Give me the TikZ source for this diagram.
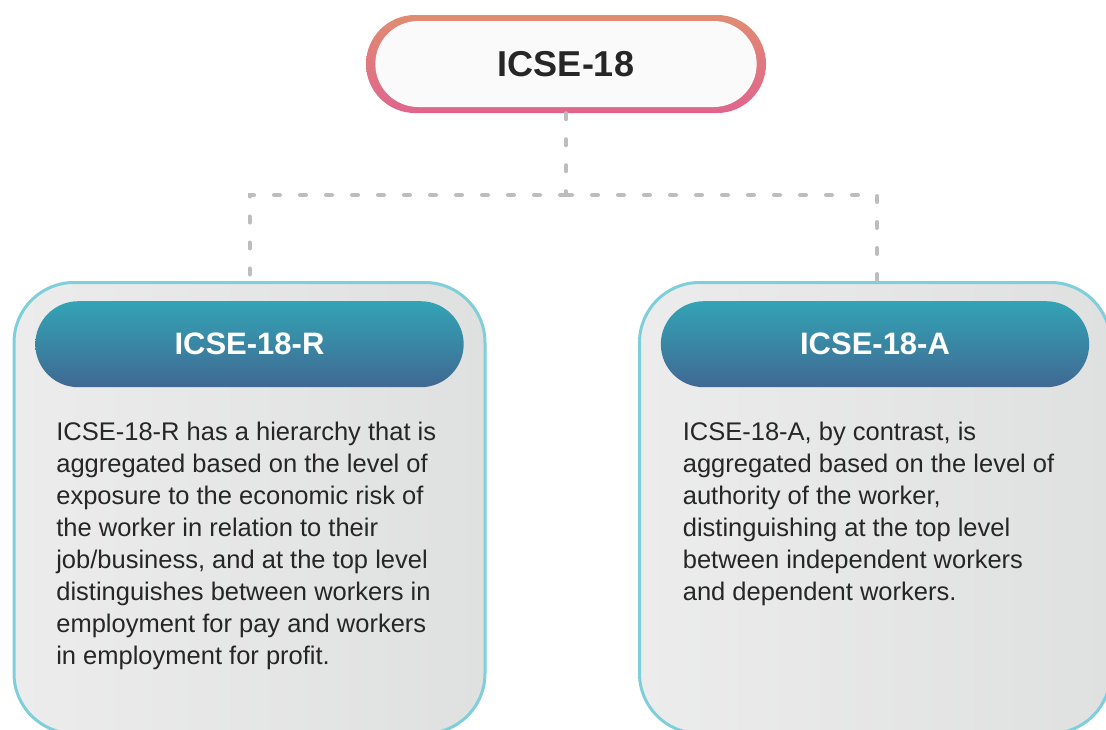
\documentclass[tikz,border=0pt]{standalone}
\usepackage{fontspec}
\setmainfont{Liberation Sans}
\usetikzlibrary{shapes,positioning,calc}

\definecolor{rimtop}{HTML}{E08C72}
\definecolor{rimbot}{HTML}{E0648E}
\definecolor{headtop}{HTML}{33A4B5}
\definecolor{headbot}{HTML}{406892}
\definecolor{cardleft}{HTML}{ECECEC}
\definecolor{cardright}{HTML}{DFE0E0}
\definecolor{cardrim}{HTML}{7FCFDA}
\definecolor{linkgray}{HTML}{BDBDBD}
\definecolor{inkN}{HTML}{262626}

\begin{document}
\begin{tikzpicture}
  [x=1pt,y=-1pt,
   rimN/.style={rounded rectangle,minimum width=400pt,minimum height=98pt,
                top color=rimtop,bottom color=rimbot,inner sep=0pt},
   topN/.style={rounded rectangle,minimum width=388pt,minimum height=86pt,
                fill=white!98!black,text=inkN,
                font=\fontsize{36}{40}\selectfont\bfseries},
   cardN/.style={draw=cardrim,line width=3pt,rounded corners=60pt,
                 left color=cardleft,right color=cardright,
                 minimum width=471pt,minimum height=451pt},
   headN/.style={rounded rectangle,minimum width=435pt,minimum height=86pt,
                 top color=headtop,bottom color=headbot,text=white,
                 font=\fontsize{31}{34}\selectfont\bfseries},
   bodyN/.style={align=left,inner sep=0pt,text=inkN,anchor=north west,
                 font=\fontsize{25.5}{32}\selectfont},
   link/.style={draw=linkgray,line width=4pt,line cap=round,
                dash pattern=on 6pt off 20pt},
   node distance=34pt]

  \useasboundingbox (0,0) rectangle (1106,729);
  \clip (0,0) rectangle (1106,729);
  \fill[white] (0,0) rectangle (1106,729);

  \node[rimN] (rim) at (566,64) {};
  \node[topN] (top) at (rim) {ICSE-18};

  \node[cardN] (leftbox)  at (249.5,508) {};
  \node[cardN] (rightbox) at (875,508)   {};

  \node[headN] (lefthead)  [below=20pt of leftbox.north]  {ICSE-18-R};
  \node[headN] (righthead) [below=20pt of rightbox.north] {ICSE-18-A};

  \node[bodyN] (lefttext) at ($(lefthead.west|-lefthead.south)+(21,34)$)
    {ICSE-18-R has a hierarchy that is\\
     aggregated based on the level of\\
     exposure to the economic risk of\\
     the worker in relation to their\\
     job/business, and at the top level\\
     distinguishes between workers in\\
     employment for pay and workers\\
     in employment for profit.};
  \node[bodyN] (righttext) at ($(righthead.west|-righthead.south)+(22,34)$)
    {ICSE-18-A, by contrast, is\\
     aggregated based on the level of\\
     authority of the worker,\\
     distinguishing at the top level\\
     between independent workers\\
     and dependent workers.};

  \coordinate (split) at (566,195);
  \draw[link] (rim.south) -- (split);
  \draw[link] (split) -| (leftbox.north);
  \draw[link] (split) -| ($(rightbox.north)+(2,0)$);
\end{tikzpicture}
\end{document}
